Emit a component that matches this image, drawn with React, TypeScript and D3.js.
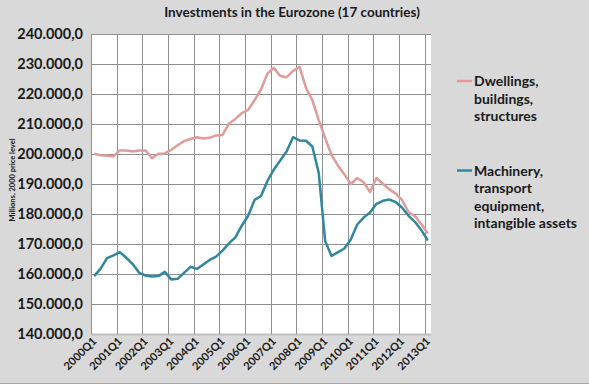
import React, { useRef, useEffect } from 'react'
import * as d3 from 'd3'

const years = ['2000', '2001', '2002', '2003', '2004', '2005', '2006', '2007', '2008', '2009', '2010', '2011', '2012', '2013']
const quarterNames = ['Q1', 'Q2', 'Q3', 'Q4']
const quarters = years.flatMap(y => quarterNames.map(q => y + q)).slice(0, 53)
const tickLabels = years.map(y => y + 'Q1')

// thousands of euro (millions), 2000 price level
const dwellings = [
  200.1, 199.6, 199.4, 199.2,
  201.2, 201.2, 200.8, 201.2,
  201.2, 198.6, 200.1, 200.2,
  201.4, 202.9, 204.3, 205.0,
  205.6, 205.2, 205.4, 206.2,
  206.3, 210.2, 211.7, 213.6,
  214.7, 218.0, 221.5, 226.8,
  228.7, 226.0, 225.6, 227.7,
  229.1, 222.1, 218.0, 211.3,
  205.3, 199.6, 196.1, 193.2,
  190.0, 192.0, 190.6, 187.3,
  192.0, 190.1, 188.2, 186.8,
  184.6, 180.6, 179.3, 176.6,
  173.6,
]
const machinery = [
  159.3, 161.8, 165.3, 166.2,
  167.3, 165.4, 163.3, 160.4,
  159.5, 159.2, 159.3, 160.7,
  158.2, 158.4, 160.4, 162.4,
  161.7, 163.2, 164.7, 165.8,
  167.8, 170.2, 172.2, 176.1,
  179.4, 184.7, 186.0, 191.0,
  194.8, 197.8, 200.9, 205.6,
  204.5, 204.4, 202.5, 193.7,
  171.0, 166.0, 167.3, 168.5,
  171.5, 176.5, 178.8, 180.5,
  183.4, 184.4, 184.8, 184.0,
  182.1, 179.4, 177.4, 174.6,
  171.1,
]
const yTicks = [140000, 150000, 160000, 170000, 180000, 190000, 200000, 210000, 220000, 230000, 240000]

const seriesNames = [
  ['Dwellings,', 'buildings,', 'structures'],
  ['Machinery,', 'transport', 'equipment,', 'intangible assets'],
]
const colors = ['#e09c9a', '#31879c']

export default function App() {
  const svgRef = useRef<SVGSVGElement>(null)
  const width = 589
  const height = 384

  useEffect(() => {
    if (!svgRef.current) return
    d3.select(svgRef.current).selectAll('*').remove()
    const svg = d3.select(svgRef.current)
    const font = 'Lato, "Open Sans", sans-serif'

    const left = 91
    const right = 431
    const top = 34
    const bottom = 334

    svg.append('rect')
      .attr('width', width)
      .attr('height', height)
      .attr('fill', '#d9d9d9')
    svg.append('line')
      .attr('x1', 0).attr('x2', width)
      .attr('y1', 383.5).attr('y2', 383.5)
      .attr('stroke', '#a6a6a6')

    const x = d3.scaleBand<string>().domain(quarters).range([left, right])
    const y = d3.scaleLinear().domain([140000, 240000]).range([bottom, top])
    const cx = (q: string) => (x(q) as number) + x.bandwidth() / 2

    svg.append('rect')
      .attr('x', left).attr('y', top)
      .attr('width', right - left).attr('height', bottom - top)
      .attr('fill', '#ffffff')

    // gridlines
    svg.append('g')
      .selectAll('line')
      .data(yTicks)
      .join('line')
      .attr('x1', left).attr('x2', right)
      .attr('y1', d => Math.round(y(d)) + 0.5)
      .attr('y2', d => Math.round(y(d)) + 0.5)
      .attr('stroke', d => (d === 140000 ? '#bfbfbf' : '#8f8f8f'))
      .attr('stroke-width', d => (d === 140000 ? 2 : 1))

    svg.append('g')
      .selectAll('line')
      .data(tickLabels)
      .join('line')
      .attr('x1', d => Math.round(x(d) as number) + 0.5)
      .attr('x2', d => Math.round(x(d) as number) + 0.5)
      .attr('y1', top).attr('y2', bottom)
      .attr('stroke', '#8f8f8f')

    // y labels
    const locale = d3.formatLocale({ decimal: ',', thousands: '.', grouping: [3], currency: ['', ''] })
    const fmt = locale.format(',.1f')
    svg.append('g')
      .selectAll('text')
      .data(yTicks)
      .join('text')
      .attr('x', 83)
      .attr('y', d => y(d) + 5)
      .attr('text-anchor', 'end')
      .attr('font-family', font)
      .attr('font-weight', 'bold')
      .attr('font-size', '14.5px')
      .attr('fill', '#1a1a1a')
      .text(d => fmt(d))

    // x labels
    svg.append('g')
      .selectAll('text')
      .data(tickLabels)
      .join('text')
      .attr('transform', d => `translate(${cx(d) + 3}, 342) rotate(-45)`)
      .attr('text-anchor', 'end')
      .attr('font-family', font)
      .attr('font-weight', 'bold')
      .attr('font-size', '11px')
      .attr('fill', '#1a1a1a')
      .text(d => d)

    // title
    svg.append('text')
      .attr('x', 292).attr('y', 17)
      .attr('text-anchor', 'middle')
      .attr('font-family', font)
      .attr('font-weight', 'bold')
      .attr('font-size', '13.5px')
      .attr('fill', '#1a1a1a')
      .text('Investments in the Eurozone (17 countries)')

    svg.append('text')
      .attr('transform', 'translate(15, 180) rotate(-90)')
      .attr('text-anchor', 'middle')
      .attr('font-family', font)
      .attr('font-weight', 'bold')
      .attr('font-size', '7.5px')
      .attr('fill', '#1a1a1a')
      .text('Millions,  2000 price level')

    // lines
    const line = d3.line<number>()
      .x((_, i) => cx(quarters[i]))
      .y(d => y(d * 1000))

    ;[dwellings, machinery].forEach((s, k) => {
      svg.append('path')
        .datum(s)
        .attr('d', line)
        .attr('fill', 'none')
        .attr('stroke', colors[k])
        .attr('stroke-width', 2.5)
        .attr('stroke-linejoin', 'round')
    })

    // legend
    const legendTops = [81, 170.5]
    seriesNames.forEach((names, k) => {
      const g = svg.append('g')
      g.append('line')
        .attr('x1', 457).attr('x2', 472)
        .attr('y1', legendTops[k]).attr('y2', legendTops[k])
        .attr('stroke', colors[k])
        .attr('stroke-width', 2.5)
      names.forEach((n, j) => {
        g.append('text')
          .attr('x', 474)
          .attr('y', legendTops[k] + 5 + j * 17.6)
          .attr('font-family', font)
          .attr('font-weight', 'bold')
          .attr('font-size', '14px')
          .attr('fill', '#1a1a1a')
          .text(n)
      })
    })
  }, [])

  return (
    <div style={{ position: 'absolute', left: 0, top: 0 }}>
      <svg ref={svgRef} width={width} height={height} style={{ display: 'block' }} />
    </div>
  )
}
